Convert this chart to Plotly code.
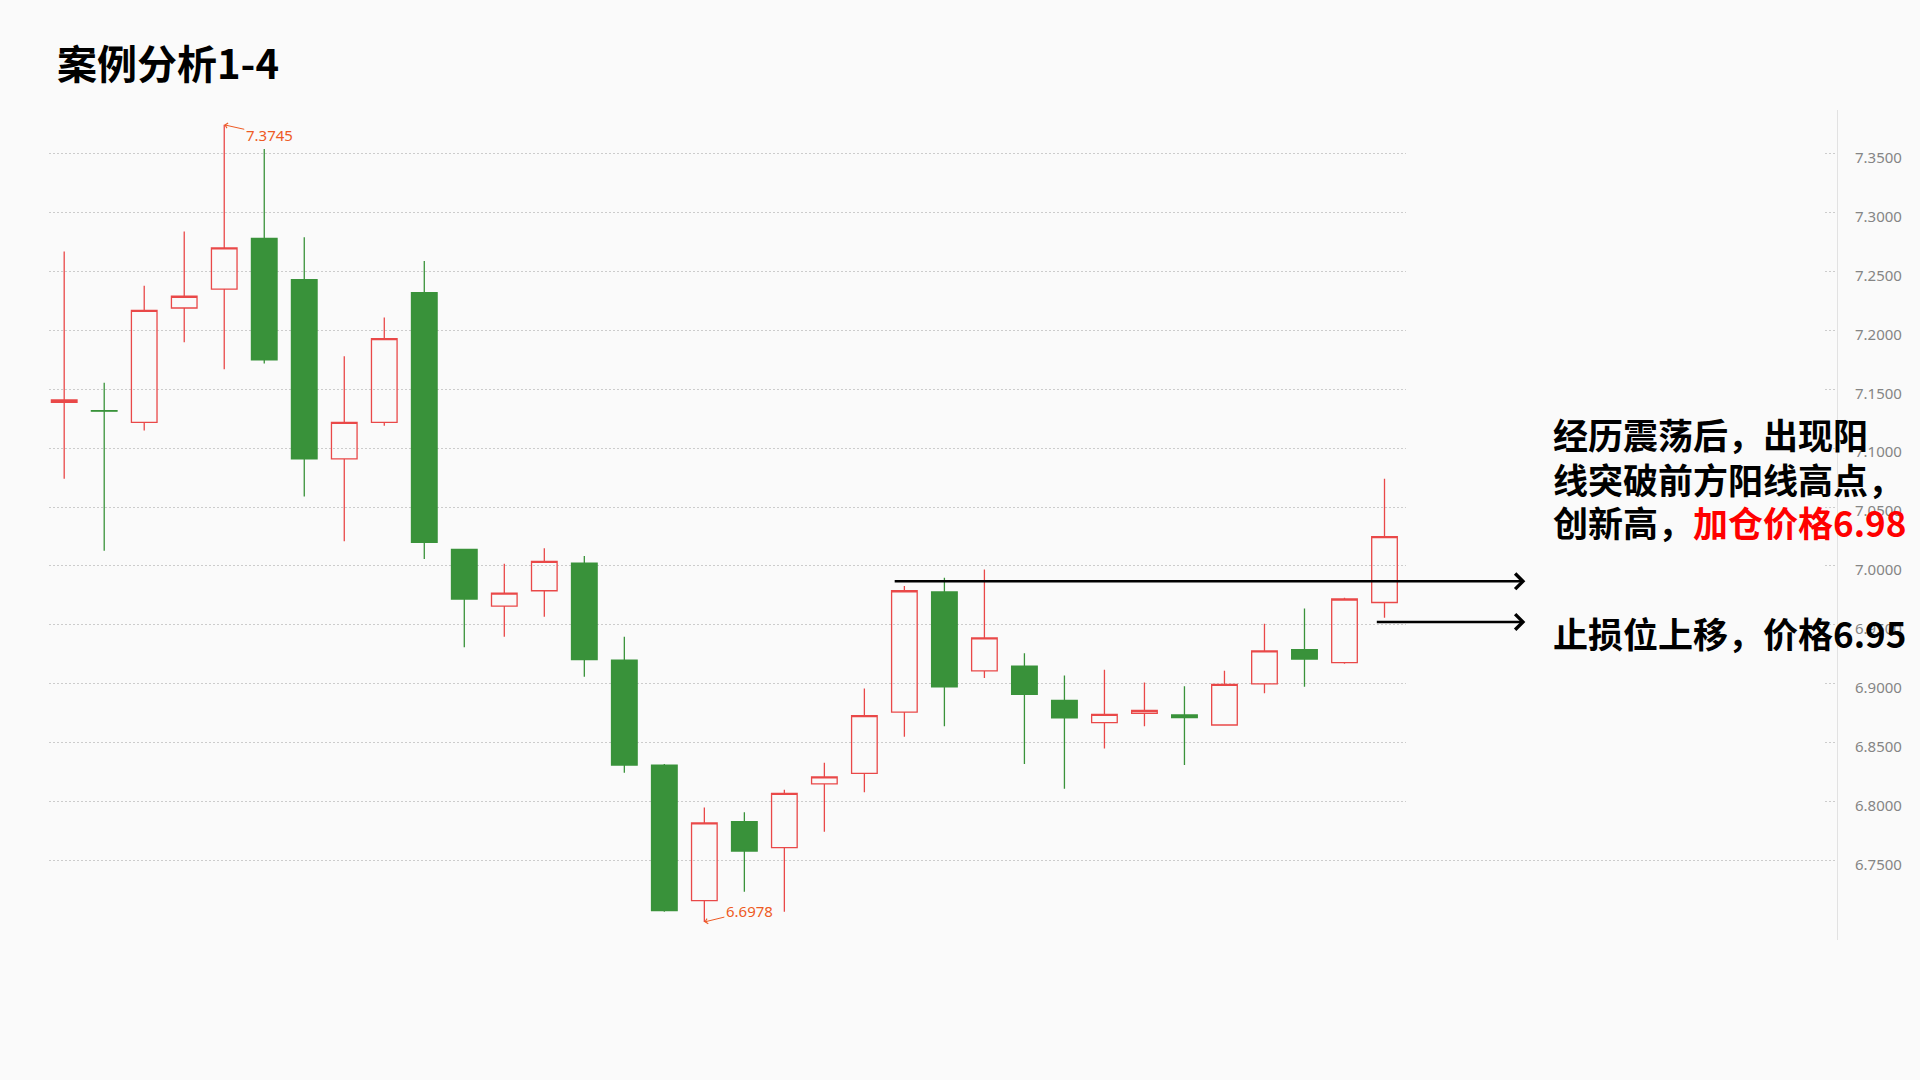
import plotly.graph_objects as go

# ---------------- data ----------------
categories = ["K01", "K02", "K03", "K04", "K05", "K06", "K07", "K08", "K09", "K10",
              "K11", "K12", "K13", "K14", "K15", "K16", "K17", "K18", "K19", "K20",
              "K21", "K22", "K23", "K24", "K25", "K26", "K27", "K28", "K29", "K30",
              "K31", "K32", "K33", "K34"]
open_ = [7.139, 7.1318, 7.122, 7.219, 7.235, 7.278, 7.243, 7.091, 7.122, 7.232,
         7.014, 6.966, 6.979, 7.0025, 6.920, 6.831, 6.716, 6.783, 6.761, 6.815,
         6.824, 6.876, 6.978, 6.911, 6.915, 6.886, 6.867, 6.875, 6.8735, 6.865,
         6.900, 6.929, 6.918, 6.969]
high = [7.267, 7.1556, 7.238, 7.284, 7.3745, 7.354, 7.279, 7.178, 7.211, 7.259,
        7.014, 7.002, 7.015, 7.0085, 6.940, 6.832, 6.795, 6.791, 6.810, 6.833,
        6.896, 6.983, 6.990, 6.997, 6.926, 6.907, 6.912, 6.901, 6.898, 6.911,
        6.951, 6.964, 6.973, 7.074]
low = [7.074, 7.013, 7.115, 7.190, 7.167, 7.172, 7.059, 7.021, 7.119, 7.006,
       6.931, 6.940, 6.957, 6.906, 6.8245, 6.7065, 6.6978, 6.7235, 6.7065, 6.7745,
       6.808, 6.855, 6.864, 6.905, 6.832, 6.811, 6.845, 6.864, 6.831, 6.8645,
       6.892, 6.8975, 6.917, 6.956]
close = [7.141, 7.1314, 7.217, 7.229, 7.270, 7.175, 7.091, 7.122, 7.193, 7.020,
         6.972, 6.977, 7.004, 6.9205, 6.831, 6.7075, 6.782, 6.758, 6.807, 6.821,
         6.873, 6.979, 6.8975, 6.939, 6.891, 6.871, 6.874, 6.8775, 6.8712, 6.8995,
         6.928, 6.921, 6.972, 7.025]
tickvals = [6.75, 6.80, 6.85, 6.90, 6.95, 7.00, 7.05, 7.10, 7.15, 7.20, 7.25, 7.30, 7.35]

max_idx = 4
min_idx = 16
add_price = 6.987
stop_price = 6.9525

title_text = "案例分析1-4"
note_line1 = "经历震荡后，出现阳"
note_line2 = "线突破前方阳线高点，"
note_line3a = "创新高，"
note_line3b = "加仓价格6.98"
note_line4 = "止损位上移，价格6.95"

# ---------------- style / layout ----------------
BG = "#fafafa"
RED = "#e94848"
GREEN = "#39923a"
ORANGE = "#ee5a24"
FONT = "Noto Sans CJK SC"

W, H = 1920, 1080
L, R, T, B = 49, 1837, 110, 940  # plot area in pixels


def px(xp):
    return (xp - L) / (R - L)


def py(yp):
    return (B - yp) / (B - T)


fig = go.Figure()
fig.add_trace(go.Candlestick(
    x=categories, open=open_, high=high, low=low, close=close,
    increasing=dict(line=dict(color=RED, width=1.3), fillcolor="rgba(0,0,0,0)"),
    decreasing=dict(line=dict(color=GREEN, width=1.3), fillcolor=GREEN),
    whiskerwidth=0, showlegend=False, hoverinfo="skip",
))

annotations = []
# max / min labels
annotations.append(dict(
    x=categories[max_idx], y=high[max_idx], xref="x", yref="y",
    text=f"{high[max_idx]:.4f}", showarrow=True, ax=45, ay=10,
    arrowhead=4, arrowsize=1, arrowwidth=1, arrowcolor=ORANGE, standoff=0,
    font=dict(family="Noto Sans", size=15, color=ORANGE)))
annotations.append(dict(
    x=categories[min_idx], y=low[min_idx], xref="x", yref="y",
    text=f"{low[min_idx]:.4f}", showarrow=True, ax=45, ay=-11,
    arrowhead=4, arrowsize=1, arrowwidth=1, arrowcolor=ORANGE, standoff=0,
    font=dict(family="Noto Sans", size=15, color=ORANGE)))

# black arrows
annotations.append(dict(
    x=36.52, y=add_price, ax=20.72, ay=add_price, xref="x", yref="y", axref="x", ayref="y",
    text="", showarrow=True, arrowhead=4, arrowsize=1.2, arrowwidth=2.5, arrowcolor="black",
    standoff=0, startstandoff=0))
annotations.append(dict(
    x=36.52, y=stop_price, ax=32.77, ay=stop_price, xref="x", yref="y", axref="x", ayref="y",
    text="", showarrow=True, arrowhead=4, arrowsize=1.2, arrowwidth=2.5, arrowcolor="black",
    standoff=0, startstandoff=0))

# title
annotations.append(dict(
    x=px(55), y=py(62), xref="paper", yref="paper", xanchor="left", yanchor="middle",
    text=f"<b>{title_text}</b>", showarrow=False,
    font=dict(family=FONT, size=40, color="black")))

# notes
note_font = dict(family=FONT, size=35, color="black")
for txt, yp in [(note_line1, 434), (note_line2, 478),
                (f"{note_line3a}<span style='color:#ff0000'>{note_line3b}</span>", 521),
                (note_line4, 632)]:
    annotations.append(dict(
        x=px(1551), y=py(yp), xref="paper", yref="paper", xanchor="left", yanchor="middle",
        text=f"<b>{txt}</b>", showarrow=False, font=note_font))

shapes = [dict(type="rect", xref="paper", yref="paper",
               x0=px(1406), x1=px(1825), y0=py(830), y1=1.0,
               fillcolor=BG, line=dict(width=0), layer="above")]

fig.update_layout(
    width=W, height=H,
    margin=dict(l=L, r=W - R, t=T, b=H - B, pad=0),
    paper_bgcolor=BG, plot_bgcolor=BG,
    font=dict(family=FONT),
    boxgap=0.36, boxgroupgap=0,
    showlegend=False,
    annotations=annotations,
    shapes=shapes,
    xaxis=dict(type="category", range=[-0.38, 44.31], showgrid=False, zeroline=False,
               showticklabels=False, showline=False, ticks="", rangeslider=dict(visible=False),
               fixedrange=True),
    yaxis=dict(side="right", range=[6.6825, 7.3871], tickvals=tickvals, tickformat=".4f",
               showgrid=True, gridcolor="#cccccc", griddash="1.5px,2.5px", gridwidth=1,
               zeroline=False, showline=True, linecolor="#e2e2e2", linewidth=1,
               ticks="", ticklabelstandoff=14, ticklabelshift=4,
               tickfont=dict(family="Noto Sans", size=15, color="#858585"),
               fixedrange=True),
)

fig.write_html("out.html", config={"displayModeBar": False},
               post_script="document.body.style.margin='0';document.body.style.overflow='hidden';")
